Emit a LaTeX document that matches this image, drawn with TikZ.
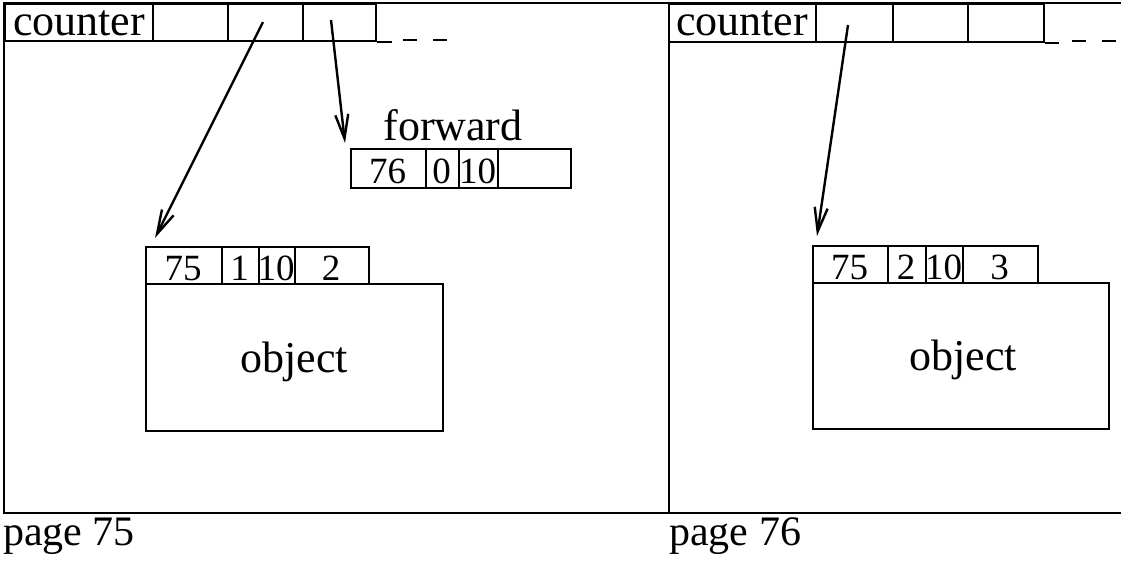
\documentclass[tikz,border=0pt]{standalone}
\usepackage{fontspec}
\setmainfont{Liberation Serif}
\usetikzlibrary{arrows.meta}
\tikzset{
  x=1pt,y=-1pt,
  cell/.style={draw,line width=2.2pt,inner sep=0pt,anchor=north west},
  word/.style={inner sep=0pt,anchor=base,font=\fontsize{44}{44}\selectfont},
  label/.style={inner sep=0pt,anchor=base west,font=\fontsize{42}{42}\selectfont},
  num/.style={inner sep=0pt,anchor=base,font=\fontsize{37}{37}\selectfont},
  frame/.style={line width=2.4pt},
  ptr/.style={line width=2.4pt,-{Straight Barb[length=24pt,width=13pt,line width=2.4pt]}},
  tail/.style={line width=2.6pt,dash pattern=on 14pt off 16pt}
}
\begin{document}
\begin{tikzpicture}
\useasboundingbox (0,0) rectangle (1121,560);
% page frames
\draw[frame] (4,3) rectangle (669,513);
\draw[frame] (669,3) -- (1121,3);
\draw[frame] (669,513) -- (1121,513);
% left counter row
\node[cell,minimum width=148pt,minimum height=37pt] (lc0) at (4,3) {};
\node[cell,minimum width=75pt,minimum height=37pt] (lc1) at (152,3) {};
\node[cell,minimum width=75pt,minimum height=37pt] (lc2) at (227,3) {};
\node[cell,minimum width=73pt,minimum height=37pt] (lc3) at (302,3) {};
\node[word] (lct) at (79,35) {counter};
\draw[frame] (lc3.south east) -- ++(15,0) coordinate (lend);
\draw[tail] (403,40) coordinate (ld0) -- (450,40) coordinate (ld1);
% right counter row
\node[cell,minimum width=147pt,minimum height=38pt] (rc0) at (668,3) {};
\node[cell,minimum width=77pt,minimum height=38pt] (rc1) at (815,3) {};
\node[cell,minimum width=75pt,minimum height=38pt] (rc2) at (892,3) {};
\node[cell,minimum width=76pt,minimum height=38pt] (rc3) at (967,3) {};
\node[word] (rct) at (742,35) {counter};
\draw[frame] (rc3.south east) -- ++(14,0) coordinate (rend);
\draw[tail] (1072,41) coordinate (rd0) -- (1121,41) coordinate (rd1);
% forward block
\node[word] (fw) at (453,140) {forward};
\node[cell,minimum width=75pt,minimum height=39pt] (f1) at (350,148) {};
\node[cell,minimum width=33pt,minimum height=39pt] (f2) at (425,148) {};
\node[cell,minimum width=39pt,minimum height=39pt] (f3) at (458,148) {};
\node[cell,minimum width=73pt,minimum height=39pt] (f4) at (497,148) {};
\node[num] at (387.5,183) {76};
\node[num] at (441.5,183) {0};
\node[num] at (477.5,183) {10};
% left object
\node[cell,minimum width=76pt,minimum height=37pt] (l1) at (145,246) {};
\node[cell,minimum width=37pt,minimum height=37pt] (l2) at (221,246) {};
\node[cell,minimum width=36pt,minimum height=37pt] (l3) at (258,246) {};
\node[cell,minimum width=74pt,minimum height=37pt] (l4) at (294,246) {};
\node[num] at (183,280) {75};
\node[num] at (239.5,280) {1};
\node[num] at (276,280) {10};
\node[num] at (331,280) {2};
\node[cell,minimum width=297pt,minimum height=147pt] (lobj) at (145,283) {};
\node[word] at (294,372) {object};
% right object
\node[cell,minimum width=75pt,minimum height=37pt] (r1) at (812,245) {};
\node[cell,minimum width=38pt,minimum height=37pt] (r2) at (887,245) {};
\node[cell,minimum width=37pt,minimum height=37pt] (r3) at (925,245) {};
\node[cell,minimum width=75pt,minimum height=37pt] (r4) at (962,245) {};
\node[num] at (849.5,279) {75};
\node[num] at (906,279) {2};
\node[num] at (943.5,279) {10};
\node[num] at (999.5,279) {3};
\node[cell,minimum width=296pt,minimum height=146pt] (robj) at (812,282) {};
\node[word] at (963,370) {object};
% pointers
\coordinate (p1s) at (263,22);
\coordinate (p1e) at (155,238);
\coordinate (p2s) at (331,20);
\coordinate (p2e) at (345,143);
\coordinate (p3s) at (848,25);
\coordinate (p3e) at (817,236);
\draw[ptr] (p1s) -- (p1e);
\draw[ptr] (p2s) -- (p2e);
\draw[ptr] (p3s) -- (p3e);
% page labels
\node[label] (pg75) at (3,545) {page 75};
\node[label] (pg76) at (669,545) {page 76};
\end{tikzpicture}
\end{document}
